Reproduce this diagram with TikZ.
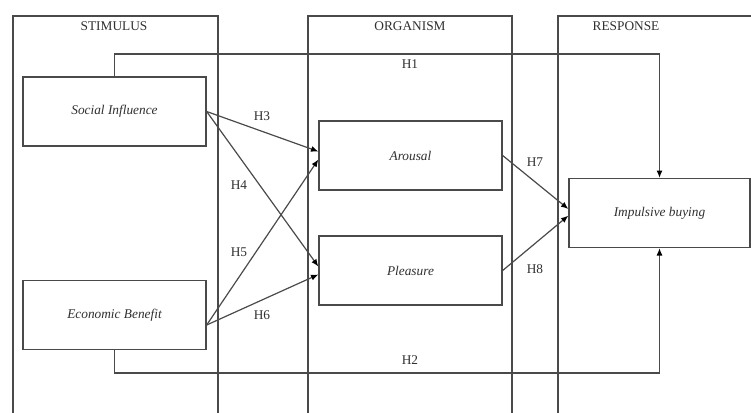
\documentclass[tikz,border=0pt]{standalone}
\usepackage{fontspec}
\setmainfont{Liberation Serif}
\usetikzlibrary{arrows.meta}

\definecolor{linegray}{HTML}{4A4A4A}
\definecolor{textgray}{HTML}{303030}

\tikzset{
  colbox/.style={draw=linegray, line width=0.9pt},
  construct/.style={draw=linegray, line width=1pt, minimum width=137.25pt,
    minimum height=51.75pt, inner sep=0pt, text=textgray,
    font=\fontsize{10}{12}\selectfont\itshape},
  head/.style={text=textgray, font=\fontsize{10}{12}\selectfont},
  hyp/.style={text=textgray, font=\fontsize{10}{12}\selectfont},
  link/.style={draw=linegray, line width=0.9pt, -{Latex[length=5.5pt,width=4.5pt,color=black]}},
}

\begin{document}
\begin{tikzpicture}[x=0.75pt, y=-0.75pt]
	\clip (0,0) rectangle (751,412);
	\fill[white] (0,0) rectangle (751,412);
	% columns
	\draw[colbox] (13,16) rectangle (218,430);
	\draw[colbox] (308,16) rectangle (512,430);
	\draw[colbox] (558,16) rectangle (800,430);
	\node[head] (stimulus) at (114,26) {STIMULUS};
	\node[head] (organism) at (410,26) {ORGANISM};
	\node[head] (response) at (626,26) {RESPONSE};
	% constructs
	\node[construct] (social) at (114.5,111.5) {Social Influence};
	\node[construct] (econ) at (114.5,315) {Economic Benefit};
	\node[construct] (arousal) at (410.5,155.5) {Arousal};
	\node[construct] (pleasure) at (410.5,270.5) {Pleasure};
	\node[construct, minimum width=135.75pt] (impulsive) at (659.5,213) {Impulsive buying};
	% direct paths
	\coordinate (h1top) at (0,54);
	\coordinate (h2bot) at (0,373);
	\draw[link] (social.north) -- (social.north |- h1top) -| (impulsive.north);
	\draw[link] (econ.south) -- (econ.south |- h2bot) -| (impulsive.south);
	\node[hyp] (h1) at (410,64) {H1};
	\node[hyp] (h2) at (410,360) {H2};
	% stimulus to organism
	\draw[link] (social.east) -- ([yshift=3pt]arousal.west);
	\draw[link] (social.east) -- ([yshift=3pt]pleasure.west);
	\draw[link] ([yshift=-7.5pt]econ.east) -- ([yshift=-3pt]arousal.west);
	\draw[link] ([yshift=-7.5pt]econ.east) -- ([yshift=-3pt]pleasure.west);
	\node[hyp] (h3) at (262,116) {H3};
	\node[hyp] (h4) at (239,185) {H4};
	\node[hyp] (h5) at (239,252) {H5};
	\node[hyp] (h6) at (262,315) {H6};
	% organism to response
	\draw[link] (arousal.east) -- ([yshift=3pt]impulsive.west);
	\draw[link] (pleasure.east) -- ([yshift=-2pt]impulsive.west);
	\node[hyp] (h7) at (535,162) {H7};
	\node[hyp] (h8) at (535,269) {H8};
\end{tikzpicture}
\end{document}
